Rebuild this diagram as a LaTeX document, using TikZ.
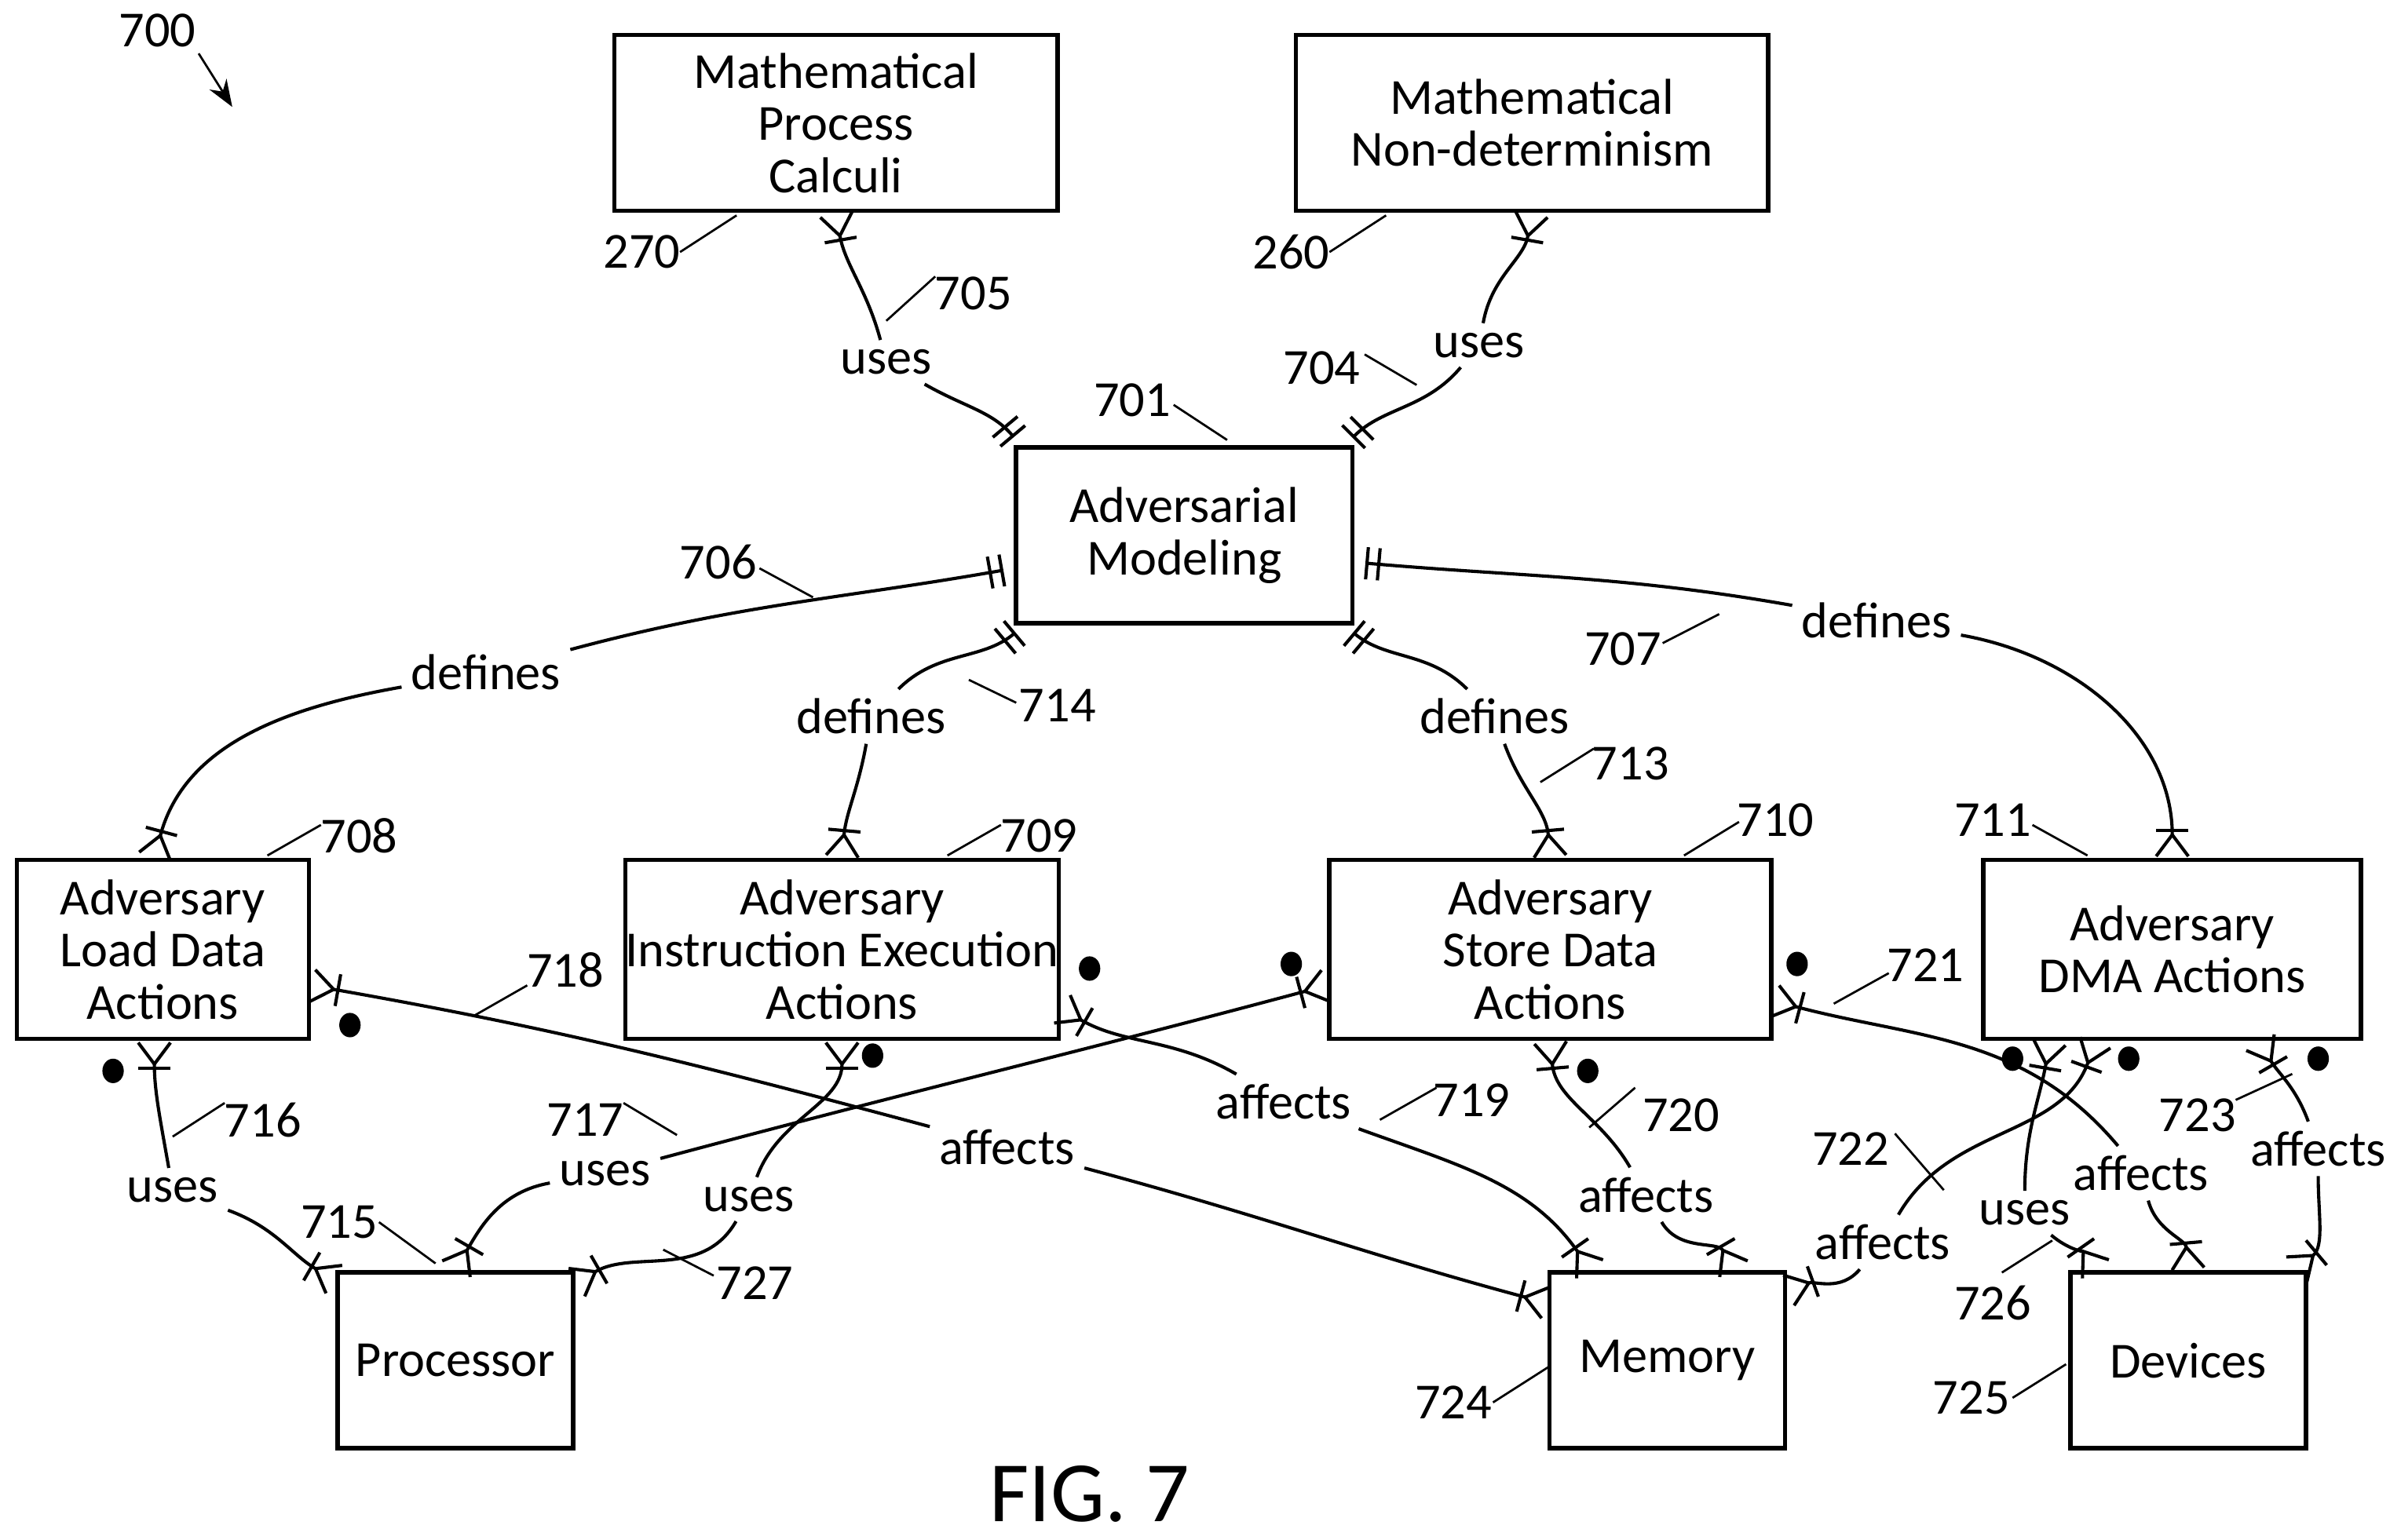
\documentclass[tikz,border=0pt]{standalone}
\usepackage{fontspec}
\setmainfont{Carlito}
\usetikzlibrary{arrows.meta}
\tikzset{
  box/.style={draw, thick, align=center, inner sep=0pt, minimum height=1.15cm},
  lbl/.style={inner sep=1.5pt},
  crow/.style={-{Bar[width=6pt,line width=0.6pt]Straight Barb[reversed,length=4pt,width=6pt,line width=0.6pt]}},
  one/.style={-{Bar[width=6pt,line width=0.6pt,sep=1.6pt]Bar[width=6pt,line width=0.6pt,sep=2pt]}},
}
\begin{document}
\begin{tikzpicture}[x=0.01cm, y=0.01cm, font=\fontsize{9.4}{9.7}\selectfont, line width=0.6pt]
  \useasboundingbox (0,0) rectangle (1564,1008);
  % boxes
  \node[box, minimum width=2.9cm]   (mpc)  at (547,927.5)  {Mathematical\\Process\\Calculi};
  \node[box, minimum width=3.09cm]  (mnd)  at (1002.5,927.5) {Mathematical\\Non-determinism};
  \node[box, minimum width=2.2cm]   (am)   at (775,657.5)  {Adversarial\\Modeling};
  \node[box, minimum width=1.91cm, minimum height=1.17cm] (ald)  at (106.5,386.5) {Adversary\\Load Data\\Actions};
  \node[box, minimum width=2.78cm, minimum height=1.17cm] (aie)  at (551,386.5)   {Adversary\\Instruction Execution\\Actions};
  \node[box, minimum width=2.89cm, minimum height=1.17cm] (asd)  at (1014.5,386.5) {Adversary\\Store Data\\Actions};
  \node[box, minimum width=2.47cm, minimum height=1.17cm] (adma) at (1421.5,386.5) {Adversary\\DMA Actions};
  \node[box, minimum width=1.54cm]  (proc) at (298,117.5)  {Processor};
  \node[box, minimum width=1.54cm]  (mem)  at (1091,117.5) {Memory};
  \node[box, minimum width=1.54cm]  (dev)  at (1432,117.5) {Devices};
  % relation labels
  \node[lbl] (u705) at (580,771)  {uses};
  \node[lbl] (u704) at (968,782)  {uses};
  \node[lbl] (d706) at (318,568)  {defines};
  \node[lbl] (d714) at (570,539)  {defines};
  \node[lbl] (d713) at (978,539)  {defines};
  \node[lbl] (d707) at (1228,602) {defines};
  \node[lbl] (u716) at (113,229)  {uses};
  \node[lbl] (u715) at (396,240)  {uses};
  \node[lbl] (u727) at (490,223)  {uses};
  \node[lbl] (a718) at (659,257)  {affects};
  \node[lbl] (a719) at (840,287)  {affects};
  \node[lbl] (a720) at (1077,226) {affects};
  \node[lbl] (a721) at (1401,240) {affects};
  \node[lbl] (a722) at (1232,195) {affects};
  \node[lbl] (u726) at (1325,214) {uses};
  \node[lbl] (a723) at (1517,256) {affects};
  % relations
  \draw[crow] (u705) to[out=105,in=-80] (mpc.south);
  \draw[one]  (u705) to[out=-30,in=130] ([xshift=-1.07cm]am.north);
  \draw[crow] (u704) to[out=80,in=-100] (mnd.south);
  \draw[one]  (u704) to[out=-130,in=45] ([xshift=1.05cm]am.north);
  \draw[one]  (d706) to[out=15,in=190] ([yshift=-0.215cm]am.west);
  \draw[crow] (d706) to[out=190,in=75] ([xshift=-0.055cm]ald.north);
  \draw[one]  (d714) to[out=45,in=-140] ([xshift=-1.05cm]am.south);
  \draw[crow] (d714) to[out=-100,in=85] (aie.north);
  \draw[one]  (d713) to[out=135,in=-40] ([xshift=1.05cm]am.south);
  \draw[crow] (d713) to[out=-70,in=95] (asd.north);
  \draw[one]  (d707) to[out=170,in=-5] ([yshift=-0.175cm]am.east);
  \draw[crow] (d707) to[out=-10,in=90] (adma.north);
  \draw[crow] (u716) to[out=100,in=-90] ([xshift=-0.055cm]ald.south);
  \draw[crow] (u716) to[out=-20,in=150] ([yshift=0.525cm]proc.west);
  \draw[crow] (u715) to[out=15,in=195] ([yshift=-0.235cm]asd.west);
  \draw[crow] (u715) to[out=190,in=60] (proc.north);
  \draw[crow] (u727) to[out=70,in=-90] (aie.south);
  \draw[crow] (u727) to[out=-120,in=30] ([yshift=0.505cm]proc.east);
  \draw[crow] (a718) to[out=165,in=-10] ([yshift=-0.235cm]ald.east);
  \draw[crow] (a718) to[out=-15,in=165] ([yshift=0.375cm]mem.west);
  \draw[crow] (a719) to[out=150,in=-30] ([yshift=-0.385cm]aie.east);
  \draw[crow] (a719) to[out=-20,in=125] ([xshift=-0.5cm]mem.north);
  \draw[crow] (a720) to[out=120,in=-85] (asd.south);
  \draw[crow] (a720) to[out=-60,in=120] ([xshift=0.44cm]mem.north);
  \draw[crow] (a721) to[out=130,in=-15] ([yshift=-0.335cm]asd.east);
  \draw[crow] (a721) to[out=-75,in=95] (dev.north);
  \draw[crow] (a722) to[out=60,in=-110] ([xshift=-0.5cm]adma.south);
  \draw[crow] (a722) to[out=-130,in=20] ([yshift=0.455cm]mem.east);
  \draw[crow] (u726) to[out=90,in=-100] ([xshift=-0.8cm]adma.south);
  \draw[crow] (u726) to[out=-40,in=125] ([xshift=-0.6cm]dev.north);
  \draw[crow] (a723) to[out=110,in=-60] ([xshift=0.57cm]adma.south);
  \draw[crow] (a723) to[out=-90,in=40] ([xshift=0.7cm]dev.north);
  % dots
  \foreach \x/\y in {74/307, 229/337, 571/317, 713/374, 845/377, 1039/307, 1176/377, 1317/315, 1393/315, 1517/315}
    \fill (\x,\y) ellipse (7 and 8);
  % reference numerals
  \foreach \t/\x/\y in {700/103/988, 270/420/843, 260/845/843, 705/637/816, 704/865/767, 701/741/746,
      706/470/640, 714/692/546, 713/1067/508, 707/1062/583, 708/235/461, 709/680/461, 710/1162/471,
      711/1304/471, 718/370/373, 716/172/275, 717/383/275, 715/222/208, 727/494/168, 719/963/288,
      720/1100/278, 721/1260/376, 722/1211/256, 723/1438/278, 726/1304/155, 724/951/90, 725/1290/93}
    \node[inner sep=0pt] at (\x,\y) {\t};
  \foreach \a/\b/\c/\d in {445/843/482/867, 870/843/907/867, 580/798/612/827, 893/776/927/756,
      768/743/803/720, 497/636/532/617, 634/563/665/548, 1008/496/1043/518, 1088/587/1125/606,
      175/448/210/468, 620/448/655/468, 1102/448/1138/470, 1330/468/1366/448, 310/343/345/363,
      113/264/147/286, 408/286/443/265, 248/208/285/181, 434/190/467/173, 903/275/940/296,
      1040/270/1070/296, 1200/351/1236/371, 1240/266/1272/229, 1463/288/1500/305, 1310/175/1343/196,
      977/90/1013/113, 1317/93/1352/115}
    \draw[line width=0.4pt] (\a,\b) -- (\c,\d);
  \draw[-{Stealth[length=5pt]}, line width=0.4pt] (130,973) -- (152,938);
  \node (fig) at (713,30) {\fontsize{16}{18}\selectfont FIG. 7};
\end{tikzpicture}
\end{document}
